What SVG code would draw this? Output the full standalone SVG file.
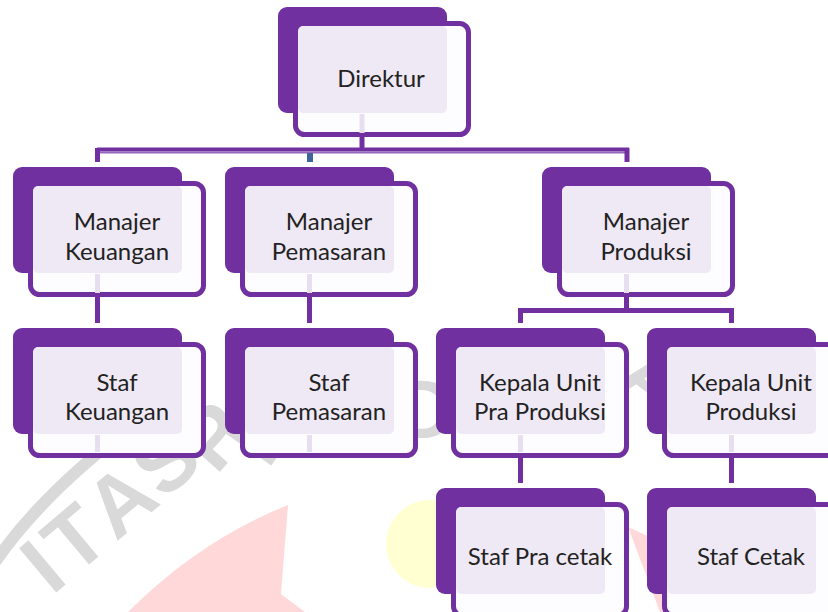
<svg xmlns="http://www.w3.org/2000/svg" width="828" height="612" viewBox="0 0 828 612">
<style>
.back{fill:#7030A0}
.front{fill:#FDFCFE;stroke:#7030A0;stroke-width:5}
.inner{fill:#EFE9F5}
.lbl{font-family:Lato,"Liberation Sans",sans-serif;font-size:24px;fill:#222222;text-anchor:middle}
.con{stroke:#7030A0;stroke-width:5;fill:none}
.faint{stroke:#E7DFEF;stroke-width:5}
.wm{fill:#d9d9d9;font-family:"Liberation Sans",sans-serif;font-weight:bold;font-size:84px}
</style>
<rect width="828" height="612" fill="#ffffff"/>
<g id="watermark">
<circle cx="430" cy="544" r="44" fill="#FFFFD2"/>
<path d="M288,505 Q200,540 128,612 L305,612 L281,594 Z" fill="#FFD9D9"/>
<path d="M628,527 L700,560 L700,612 L660,612 Z" fill="#FFD9D9"/>
<path d="M-5,562 Q45,490 140,420" stroke="#d9d9d9" stroke-width="12" fill="none"/>
<text class="wm" transform="translate(52,596) rotate(-40)">I</text>
<text class="wm" transform="translate(74,577) rotate(-40)">T</text>
<text class="wm" transform="translate(116,542) rotate(-40)">A</text>
<text class="wm" transform="translate(164,501) rotate(-42)">S</text>
<text class="wm" transform="translate(216,476) rotate(-48)">P</text>
<text class="wm" transform="translate(268,470) rotate(-55)">E</text>
<text class="wm" transform="translate(395,438)">D</text>
<text class="wm" transform="translate(612,384) rotate(38)">A</text>
<text class="wm" transform="translate(700,408) rotate(42)">R</text>
</g>
<g id="connectors">
<line class="con" x1="362" y1="137" x2="362" y2="150"/>
<line x1="97" y1="149.5" x2="629" y2="149.5" stroke="#7030A0" stroke-width="4"/>
<line x1="97" y1="152.5" x2="629" y2="152.5" stroke="#9468BC" stroke-width="2"/>
<line class="con" x1="97.5" y1="148" x2="97.5" y2="162"/>
<line class="con" x1="627" y1="148" x2="627" y2="162"/>
<line x1="310" y1="153" x2="310" y2="162" stroke="#3D6599" stroke-width="6"/>
<line class="con" x1="97.5" y1="297" x2="97.5" y2="323"/>
<line class="con" x1="309.5" y1="297" x2="309.5" y2="323"/>
<line class="con" x1="626.5" y1="297" x2="626.5" y2="311"/>
<polyline class="con" points="520.5,323 520.5,310.5 731.5,310.5 731.5,323"/>
<line class="con" x1="520.5" y1="455" x2="520.5" y2="483"/>
<line class="con" x1="731.5" y1="455" x2="731.5" y2="483"/>
</g>
<g id="n-direktur">
<rect class="back" x="278" y="7" width="169" height="106" rx="9"/>
<rect class="front" x="295.5" y="23.5" width="173" height="111" rx="9"/>
<rect class="inner" x="298" y="26" width="149" height="87" rx="5"/>
<line class="faint" x1="362" y1="114" x2="362" y2="133"/>
<text class="lbl" x="381" y="87">Direktur</text>
</g>
<g id="n-manajer-keuangan">
<rect class="back" x="13" y="167" width="169" height="106" rx="9"/>
<rect class="front" x="30.5" y="183.5" width="173" height="111" rx="9"/>
<rect class="inner" x="33" y="186" width="149" height="87" rx="5"/>
<line class="faint" x1="97.5" y1="274" x2="97.5" y2="293"/>
<text class="lbl" x="117" y="230">Manajer</text>
<text class="lbl" x="117" y="260">Keuangan</text>
</g>
<g id="n-manajer-pemasaran">
<rect class="back" x="225" y="167" width="169" height="106" rx="9"/>
<rect class="front" x="242.5" y="183.5" width="173" height="111" rx="9"/>
<rect class="inner" x="245" y="186" width="149" height="87" rx="5"/>
<line class="faint" x1="309.5" y1="274" x2="309.5" y2="293"/>
<text class="lbl" x="329" y="230">Manajer</text>
<text class="lbl" x="329" y="260">Pemasaran</text>
</g>
<g id="n-manajer-produksi">
<rect class="back" x="542" y="167" width="169" height="106" rx="9"/>
<rect class="front" x="559.5" y="183.5" width="173" height="111" rx="9"/>
<rect class="inner" x="562" y="186" width="149" height="87" rx="5"/>
<line class="faint" x1="626.5" y1="274" x2="626.5" y2="293"/>
<text class="lbl" x="646" y="230">Manajer</text>
<text class="lbl" x="646" y="260">Produksi</text>
</g>
<g id="n-staf-keuangan">
<rect class="back" x="13" y="328" width="169" height="106" rx="9"/>
<rect class="front" x="30.5" y="344.5" width="173" height="111" rx="9"/>
<rect class="inner" x="33" y="347" width="149" height="87" rx="5"/>
<line class="faint" x1="97.5" y1="435" x2="97.5" y2="452"/>
<text class="lbl" x="117" y="391">Staf</text>
<text class="lbl" x="117" y="420">Keuangan</text>
</g>
<g id="n-staf-pemasaran">
<rect class="back" x="225" y="328" width="169" height="106" rx="9"/>
<rect class="front" x="242.5" y="344.5" width="173" height="111" rx="9"/>
<rect class="inner" x="245" y="347" width="149" height="87" rx="5"/>
<line class="faint" x1="309.5" y1="435" x2="309.5" y2="452"/>
<text class="lbl" x="329" y="391">Staf</text>
<text class="lbl" x="329" y="420">Pemasaran</text>
</g>
<g id="n-kepala-pra-produksi">
<rect class="back" x="436" y="328" width="169" height="106" rx="9"/>
<rect class="front" x="453.5" y="344.5" width="173" height="111" rx="9"/>
<rect class="inner" x="456" y="347" width="149" height="87" rx="5"/>
<line class="faint" x1="520.5" y1="435" x2="520.5" y2="452"/>
<text class="lbl" x="540" y="391">Kepala Unit</text>
<text class="lbl" x="540" y="420">Pra Produksi</text>
</g>
<g id="n-kepala-produksi">
<rect class="back" x="647" y="328" width="169" height="106" rx="9"/>
<rect class="front" x="664.5" y="344.5" width="173" height="111" rx="9"/>
<rect class="inner" x="667" y="347" width="149" height="87" rx="5"/>
<line class="faint" x1="731.5" y1="435" x2="731.5" y2="452"/>
<text class="lbl" x="751" y="391">Kepala Unit</text>
<text class="lbl" x="751" y="420">Produksi</text>
</g>
<g id="n-staf-pra-cetak">
<rect class="back" x="436" y="488" width="169" height="106" rx="9"/>
<rect class="front" x="453.5" y="504.5" width="173" height="111" rx="9"/>
<rect class="inner" x="456" y="507" width="149" height="87" rx="5"/>
<text class="lbl" x="540" y="565">Staf Pra cetak</text>
</g>
<g id="n-staf-cetak">
<rect class="back" x="647" y="488" width="169" height="106" rx="9"/>
<rect class="front" x="664.5" y="504.5" width="173" height="111" rx="9"/>
<rect class="inner" x="667" y="507" width="149" height="87" rx="5"/>
<text class="lbl" x="751" y="565">Staf Cetak</text>
</g>
</svg>
